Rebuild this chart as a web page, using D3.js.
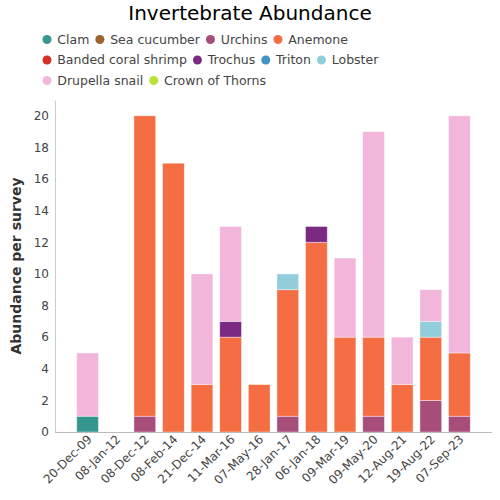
<!DOCTYPE html>
<html><head><meta charset="utf-8">
<script src="https://cdn.jsdelivr.net/npm/d3@7"></script>
<style>body{margin:0;background:#fff}svg{font-family:"DejaVu Sans",sans-serif}</style>
</head><body><svg id="c" width="500" height="500"></svg>
<script>
const dates = ["20-Dec-09","08-Jan-12","08-Dec-12","08-Feb-14","21-Dec-14","11-Mar-16","07-May-16","28-Jan-17","06-Jan-18","09-Mar-19","09-May-20","12-Aug-21","19-Aug-22","07-Sep-23"];
const species = ["Clam","Sea cucumber","Urchins","Anemone","Banded coral shrimp","Trochus","Triton","Lobster","Drupella snail","Crown of Thorns"];
const colors = ["#35978f","#9c642e","#a64d79","#f46d43","#d73027","#7b2a83","#4393c3","#92cddc","#f1b6da","#b8e13a"];
const clam      = [1,0,0,0,0,0,0,0,0,0,0,0,0,0];
const seaCucumber=[0,0,0,0,0,0,0,0,0,0,0,0,0,0];
const urchins   = [0,0,1,0,0,0,0,1,0,0,1,0,2,1];
const anemone   = [0,0,19,17,3,6,3,8,12,6,5,3,4,4];
const shrimp    = [0,0,0,0,0,0,0,0,0,0,0,0,0,0];
const trochus   = [0,0,0,0,0,1,0,0,1,0,0,0,0,0];
const triton    = [0,0,0,0,0,0,0,0,0,0,0,0,0,0];
const lobster   = [0,0,0,0,0,0,0,1,0,0,0,0,1,0];
const drupella  = [4,0,0,0,7,6,0,0,0,5,13,3,2,15];
const cot       = [0,0,0,0,0,0,0,0,0,0,0,0,0,0];
const yTicks = [0,2,4,6,8,10,12,14,16,18,20];

const series = [clam,seaCucumber,urchins,anemone,shrimp,trochus,triton,lobster,drupella,cot];
const table = dates.map((d,i)=>{const o={date:d};species.forEach((s,j)=>o[s]=series[j][i]);return o;});
const svg = d3.select("#c");
const x = d3.scaleBand().domain(dates).range([55,492]).paddingInner(0.24).paddingOuter(0.76);
const y = d3.scaleLinear().domain([0,21]).range([432,100]);
const color = d3.scaleOrdinal().domain(species).range(colors);
const stacked = d3.stack().keys(species)(table);

svg.append("text").attr("x",250).attr("y",20).attr("text-anchor","middle")
  .attr("font-size",20).attr("fill","#000").text("Invertebrate Abundance");

// legend
const rows = [[0,1,2,3],[4,5,6,7],[8,9]];
rows.forEach((r,ri)=>{
  let cx = 47;
  const yy = 39.5 + ri*20.5;
  r.forEach(k=>{
    const g = svg.append("g");
    g.append("circle").attr("cx",cx).attr("cy",yy).attr("r",4.5).attr("fill",colors[k]);
    const t = g.append("text").attr("x",cx+10.3).attr("y",yy).attr("dy","0.35em")
      .attr("font-size",12.5).attr("fill","#444").text(species[k]);
    const w = t.node().getComputedTextLength();
    cx = cx + 10.3 + w + 10.5;
  });
});

svg.append("g").selectAll("g").data(stacked).join("g").attr("fill",d=>color(d.key))
  .selectAll("rect").data(d=>d).join("rect")
  .attr("x",d=>x(d.data.date)).attr("width",x.bandwidth())
  .attr("y",d=>y(d[1])).attr("height",d=>y(d[0])-y(d[1]))
  .attr("stroke","#fff").attr("stroke-opacity",0.5).attr("stroke-width",0.8);

const ya = svg.append("g").attr("transform","translate(55,0)")
  .call(d3.axisLeft(y).tickValues(yTicks).tickSize(0).tickPadding(6));
ya.select(".domain").attr("stroke","#ccc");
ya.selectAll("text").attr("font-size",12).attr("fill","#444").attr("font-family","DejaVu Sans");

const xa = svg.append("g").attr("transform","translate(0,432)")
  .call(d3.axisBottom(x).tickSize(0).tickPadding(0));
xa.select(".domain").attr("stroke","#bbb").attr("d","M55,0.5H492");
xa.selectAll("text").attr("font-size",12).attr("fill","#444").attr("font-family","DejaVu Sans")
  .attr("text-anchor","end").attr("dy",0)
  .attr("transform","translate(5,8) rotate(-45)");

svg.append("text").attr("transform","translate(21,266) rotate(-90)").attr("text-anchor","middle")
  .attr("font-size",14).attr("fill","#333").attr("font-weight","bold").text("Abundance per survey");
</script></body></html>
